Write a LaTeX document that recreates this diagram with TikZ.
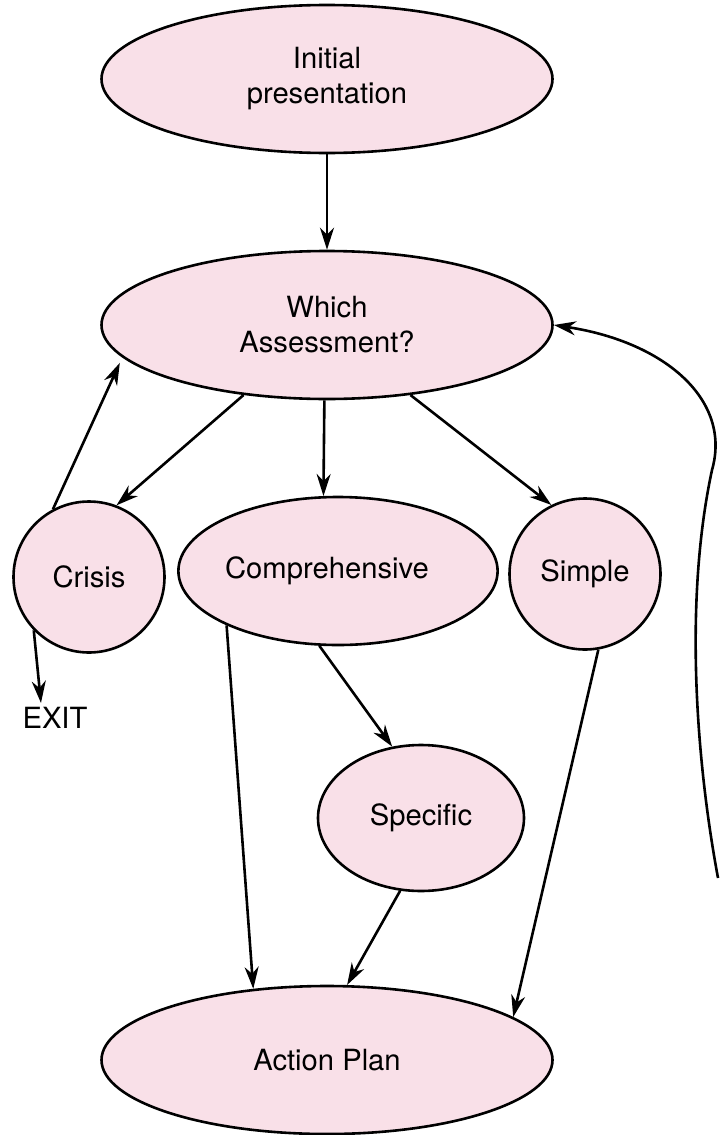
\documentclass[tikz,border=0pt]{standalone}
\usepackage{fontspec}
\setmainfont{TeX Gyre Heros}
\usetikzlibrary{arrows.meta,shapes.geometric}
\definecolor{nodepink}{RGB}{249,224,232}

\begin{document}
\begin{tikzpicture}[
  x=0.5pt, y=-0.5pt,
  font=\fontsize{14.6}{17.5}\selectfont,
  oval/.style={draw, ellipse, line width=1.3pt, fill=nodepink, align=center, inner sep=0pt, minimum width=225.5pt, minimum height=74pt},
  midoval/.style={oval, minimum width=159pt, minimum height=74pt},
  smalloval/.style={oval, minimum width=103pt, minimum height=73pt},
  roundel/.style={oval, minimum width=75.5pt, minimum height=75.5pt},
  arrow/.style={-{Stealth[length=11pt, width=7pt, inset=3.5pt]}, line width=1.3pt}
]
\useasboundingbox (0,0) rectangle (724,1135);

\node[oval] (init) at (327,79) {Initial\\presentation};
\node[oval] (which) at (327,325) {Which\\Assessment?};

\node[roundel] (crisis) at (89,577) {Crisis};
\node[midoval] (comp) at (338,571) {Comprehensive\hspace{11pt}};
\node[roundel] (simple) at (585,574) {Simple};
\node[inner sep=2pt] (exit) at (55,718) {EXIT};

\node[smalloval] (specific) at (421,818) {Specific};
\node[oval] (action) at (327,1060) {Action Plan};

\draw[arrow] (init) -- (which);
\draw[arrow] (which.220) -- (crisis.69);
\draw[arrow] (which.268) -- (comp.101);
\draw[arrow] (which.320) -- (simple.116);
\draw[arrow, shorten >=3pt] (crisis.118) -- (which.189);
\draw[arrow] (crisis.224) -- (exit.133);

\draw[arrow] (comp.206) -- (action.136);
\draw[arrow] (comp.256) -- (specific.112);
\draw[arrow] (specific.254) -- (action.75);
\draw[arrow] (simple.280) -- (action.13);

% loop back up the right side
\coordinate (loopend) at (718,878);
\draw[arrow] (loopend) .. controls (696,760) and (684,600) .. (712,470)
  .. controls (732,400) and (665,342) .. (which.east);

\end{tikzpicture}
\end{document}
